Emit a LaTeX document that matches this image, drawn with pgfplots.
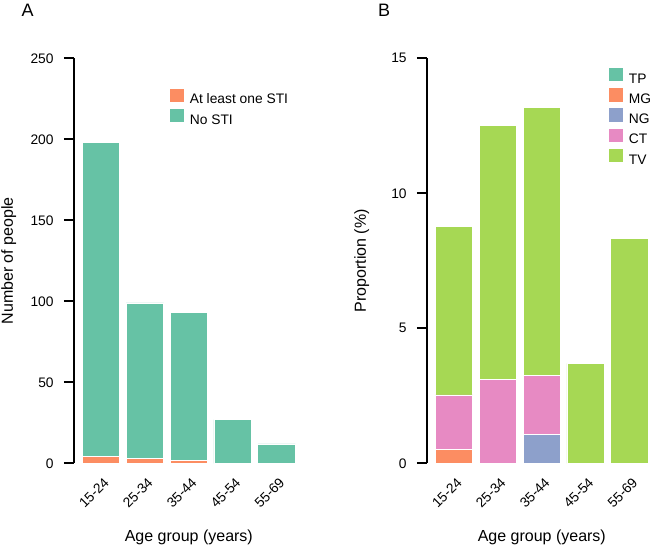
\documentclass[border=0pt]{standalone}
\usepackage{fontspec}
\setmainfont{Liberation Sans}
\usepackage{pgfplots}
\pgfplotsset{compat=1.18}
\definecolor{cTP}{HTML}{66C2A5}
\definecolor{cMG}{HTML}{FC8D62}
\definecolor{cNG}{HTML}{8DA0CB}
\definecolor{cCT}{HTML}{E78AC3}
\definecolor{cTV}{HTML}{A6D854}
\pgfplotsset{myaxis/.style={
  scale only axis, width=230pt, height=405pt, anchor=south west,
  ybar stacked, bar width=37.5pt,
  xmin=-0.62, xmax=4.62, ymin=0,
  axis y line*=left, axis x line*=bottom, x axis line style={draw=none},
  xtick={0,...,4}, xticklabels={15-24,25-34,35-44,45-54,55-69},
  xtick style={draw=none},
  tick align=outside, major tick length=10pt,
  y axis line style={line width=1.8pt},
  ytick style={line width=1.8pt, black},
  ticklabel style={font=\fontsize{13.8}{16}\selectfont},
  /pgf/number format/assume math mode=true,
  xticklabel style={xshift=5.5pt, yshift=-7pt, rotate=45, anchor=east, inner sep=0pt},
  yticklabel style={anchor=east, inner sep=0pt, xshift=-10pt},
  label style={font=\fontsize{16}{19}\selectfont},
  xlabel style={at={(axis description cs:0.5,-0.1943)}, anchor=base},
  ylabel style={at={(axis description cs:-0.265,0.5)}, anchor=base},
  legend style={draw=none, fill=none, anchor=north west, inner sep=0pt,
    font=\fontsize{13.8}{16}\selectfont, row sep=1.6pt,
    nodes={inner sep=0pt, text height=10pt, text depth=2.3pt},
    /tikz/every odd column/.style={column sep=4.7pt}},
  legend cell align=left,
  legend image code/.code={\fill[#1] (0pt,-2.3pt) rectangle (15pt,12.1pt);},
  every axis plot/.append style={draw=white, line width=0.7pt},
  scaled y ticks=false,
}}
\begin{document}
\begin{tikzpicture}
\path[use as bounding box] (0,0) rectangle (650pt,545pt);
\node[anchor=base west, inner sep=0pt, font=\fontsize{18}{20}\selectfont] at (21.5pt,528.3pt) {A};
\node[anchor=base west, inner sep=0pt, font=\fontsize{18}{20}\selectfont] at (378pt,528.3pt) {B};
\begin{axis}[myaxis, at={(73.8pt,81.7pt)}, ymax=250, ytick={0,50,...,250},
  xlabel={Age group (years)}, ylabel={Number of people},
  legend style={at={(axis description cs:0.415,0.928)}}]
\addplot[fill=cMG] coordinates {(0,4) (1,3) (2,2) (3,0) (4,0)};
\addplot[fill=cTP] coordinates {(0,194) (1,96) (2,91) (3,27) (4,12)};
\legend{At least one STI, No STI}
\end{axis}
\begin{axis}[myaxis, at={(426.8pt,81.7pt)}, ymax=15, ytick={0,5,10,15},
  xlabel={Age group (years)}, ylabel={Proportion (\%)},
  legend style={at={(axis description cs:0.789,0.979)}}]
\addlegendimage{fill=cTP, draw=white}
\addplot[fill=cMG] coordinates {(0,0.5) (1,0) (2,0) (3,0) (4,0)};
\addplot[fill=cNG] coordinates {(0,0) (1,0) (2,1.07) (3,0) (4,0)};
\addplot[fill=cCT] coordinates {(0,2.03) (1,3.1) (2,2.19) (3,0) (4,0)};
\addplot[fill=cTV] coordinates {(0,6.23) (1,9.4) (2,9.92) (3,3.7) (4,8.33)};
\legend{TP,MG,NG,CT,TV}
\end{axis}
\end{tikzpicture}
\end{document}
